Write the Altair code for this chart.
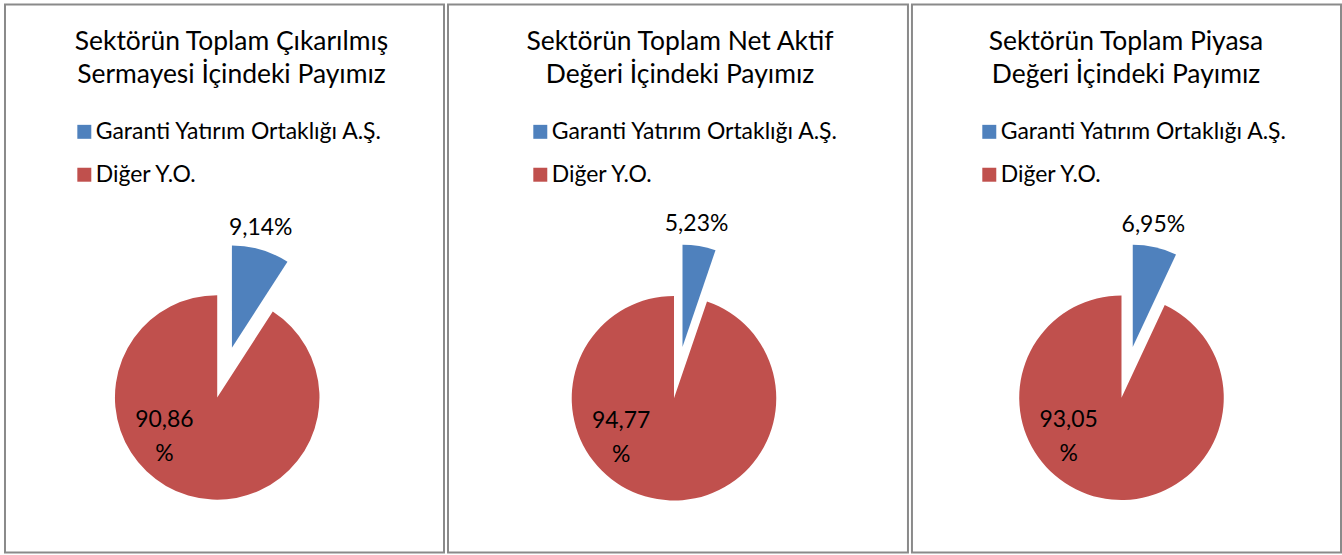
import math
import altair as alt
import pandas as pd

# ---------------- data ----------------
titles = [
    ["Sektörün Toplam Çıkarılmış", "Sermayesi İçindeki Payımız"],
    ["Sektörün Toplam Net Aktif", "Değeri İçindeki Payımız"],
    ["Sektörün Toplam Piyasa", "Değeri İçindeki Payımız"],
]
categories = ["Garanti Yatırım Ortaklığı A.Ş.", "Diğer Y.O."]
garanti_share = [9.14, 5.23, 6.95]
diger_share = [90.86, 94.77, 93.05]
colors = ["#4F81BD", "#C0504D"]

# ---------------- layout / style ----------------
FONT = "Lato"
FS = 23          # legend and data labels
FS_T = 26.5      # titles
panel_w = [440, 461, 430]
panel_h = 549
pie_cx = [212.7, 226.5, 210.0]
pie_cy = [393.7, 394.5, 394.0]
title_cx = [227, 232.5, 214.5]
legend_x = [66, 79, 64]
R = 102.5
EXPLODE = 52

theta_scale = alt.Scale(domain=[0, 100], range=[0, 2 * math.pi])
color_scale = alt.Scale(domain=categories, range=colors)


def panel(i):
    vals = [garanti_share[i], diger_share[i]]
    df = pd.DataFrame({"cat": categories, "value": vals})
    df["end"] = df["value"].cumsum()
    df["start"] = df["end"] - df["value"]
    cx, cy = pie_cx[i], pie_cy[i]
    first = categories[0]

    base = alt.Chart(df).transform_calculate(
        mid="(datum.start + datum.end) / 2",
        label="replace(format(datum.value, '.2f'), '.', ',') + '%'",
    )

    arcs = base.transform_calculate(
        off=f"datum.cat == '{first}' ? {EXPLODE} : 0",
    ).transform_calculate(
        px=f"{cx} + datum.off * sin(datum.mid / 100 * 2 * PI)",
        py=f"{cy} - datum.off * cos(datum.mid / 100 * 2 * PI)",
    ).mark_arc(radius=R).encode(
        theta=alt.Theta("start:Q", scale=theta_scale),
        theta2="end:Q",
        x=alt.X("px:Q", scale=None),
        y=alt.Y("py:Q", scale=None),
        color=alt.Color(
            "cat:N",
            scale=color_scale,
            sort=categories,
            legend=alt.Legend(
                orient="none",
                legendX=legend_x[i],
                legendY=116,
                title=None,
                symbolType="square",
                symbolSize=196,
                symbolStrokeWidth=0,
                symbolOpacity=1,
                symbolOffset=2,
                labelFont=FONT,
                labelFontSize=FS,
                labelColor="#000000",
                labelOffset=0,
                labelLimit=0,
                rowPadding=19,
                padding=0,
            ),
        ),
    )

    blue_lbl = base.transform_filter(f"datum.cat == '{first}'").mark_text(
        font=FONT, fontSize=FS, color="#000000", radius=175, dx=-6, dy=-2,
        align="center", baseline="middle",
    ).encode(
        theta=alt.Theta("mid:Q", scale=theta_scale, stack=False),
        x=alt.value(cx),
        y=alt.value(cy),
        text="label:N",
    )

    red_lbl = base.transform_filter(f"datum.cat != '{first}'").transform_calculate(
        label2="replace(format(datum.value, '.2f'), '.', ',') + '\\n%'"
    ).mark_text(
        font=FONT, fontSize=FS, color="#000000", lineBreak="\n", lineHeight=34,
        align="center", baseline="middle",
    ).encode(
        x=alt.value(cx - 53),
        y=alt.value(cy + 22.5),
        text="label2:N",
    )

    tdf = pd.DataFrame({"line1": [titles[i][0]], "line2": [titles[i][1]]})
    title = alt.Chart(tdf).transform_calculate(
        t="datum.line1 + '\\n' + datum.line2"
    ).mark_text(
        font=FONT, fontSize=FS_T, color="#000000", lineBreak="\n", lineHeight=34,
        align="center", baseline="alphabetic",
    ).encode(
        x=alt.value(title_cx[i]),
        y=alt.value(45),
        text="t:N",
    )

    return alt.layer(title, arcs, blue_lbl, red_lbl).properties(
        width=panel_w[i], height=panel_h
    )


chart = alt.hconcat(panel(0), panel(1), panel(2), spacing=2).resolve_scale(
    color="independent"
).configure_view(
    stroke="#8a8a8a", strokeWidth=2
).properties(
    padding={"left": 4, "top": 3, "right": 0, "bottom": 0},
    background="#ffffff",
)

chart.save("out.html", embed_options={"renderer": "svg", "actions": False})
